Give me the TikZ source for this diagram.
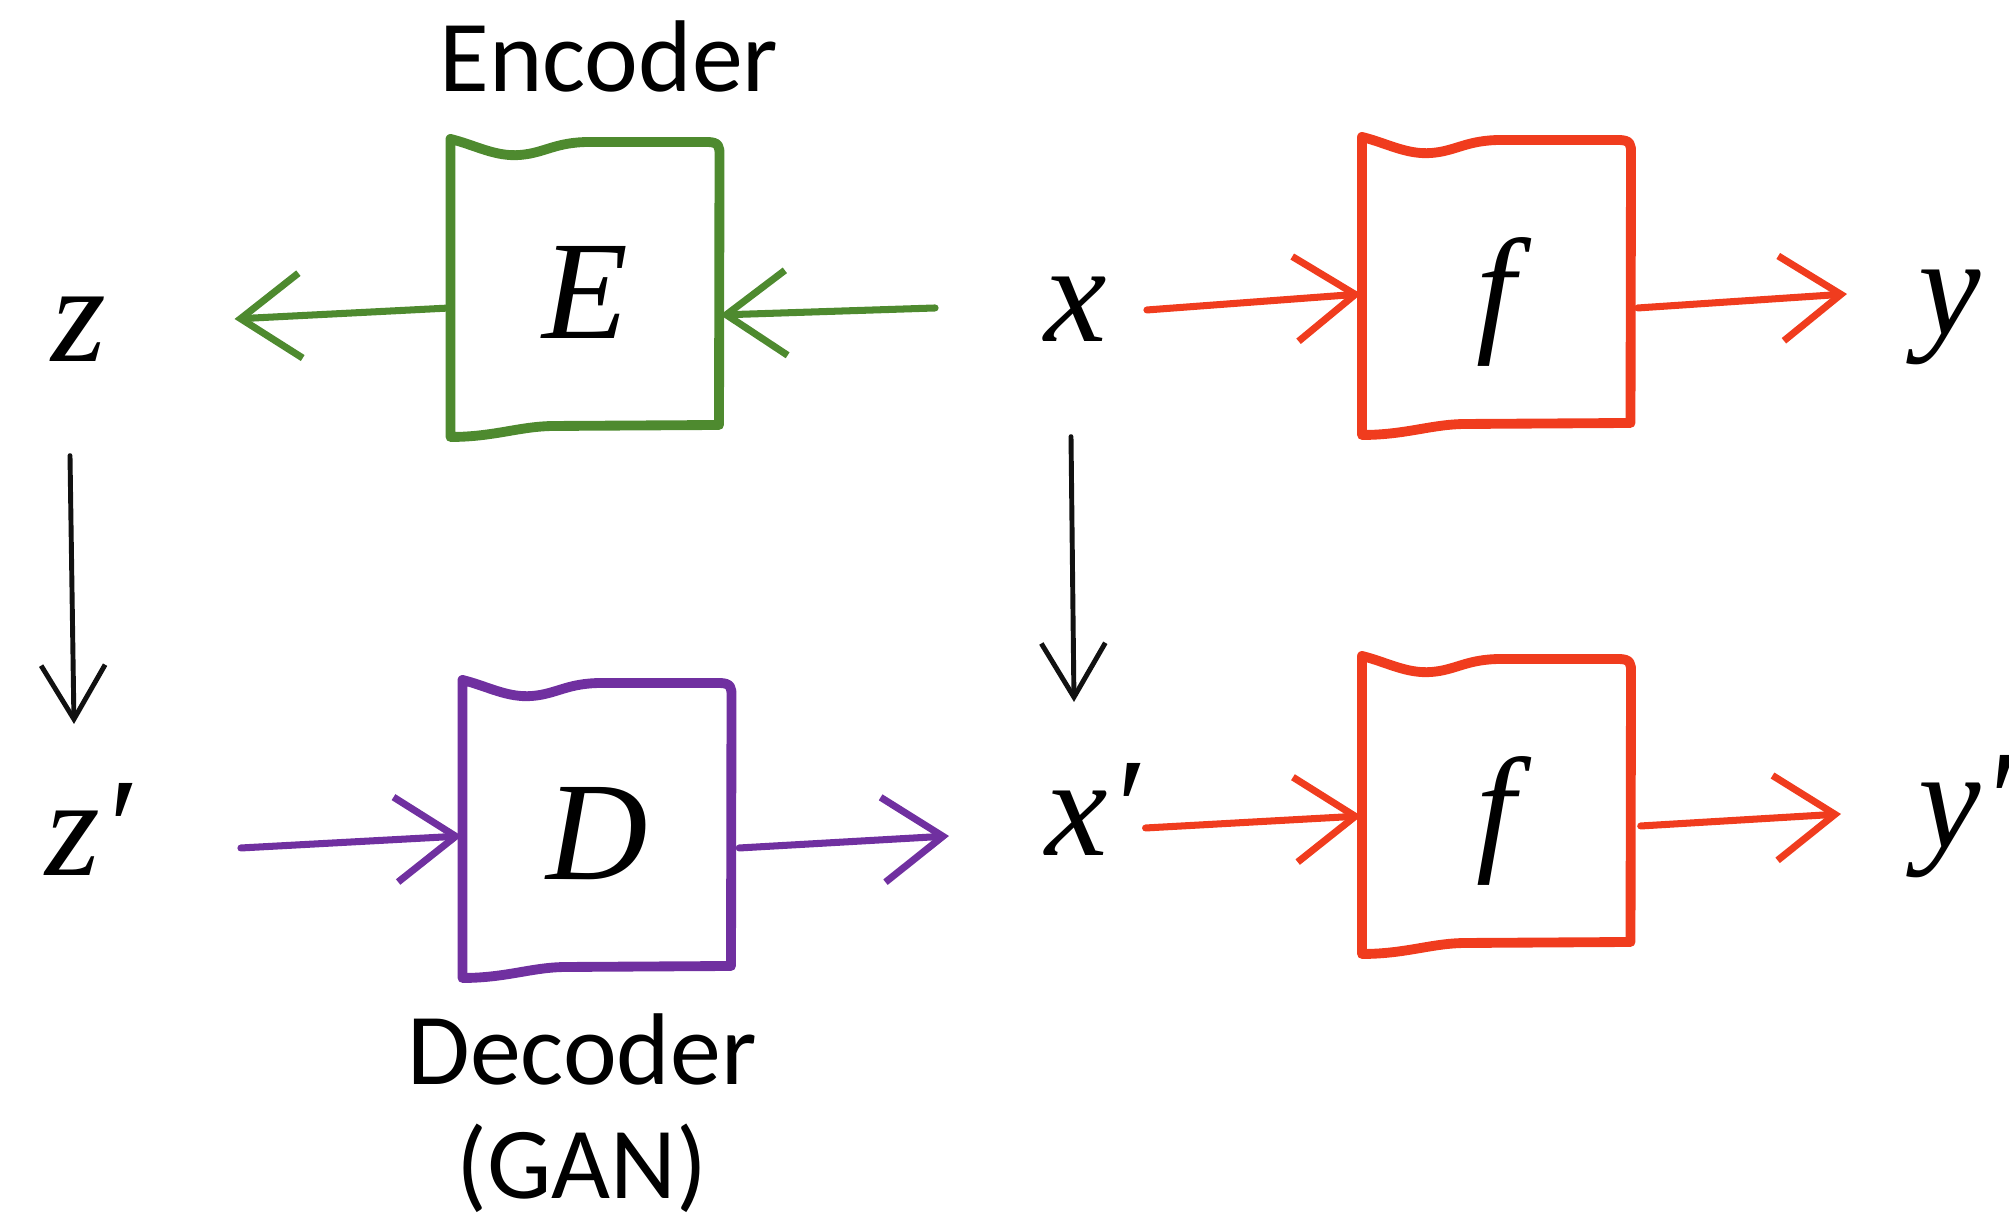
\documentclass[tikz,border=0pt]{standalone}
\usepackage{fontspec}
\setmainfont{Carlito}
\newfontfamily\varfont{Liberation Serif}
\usetikzlibrary{arrows.meta,calc,positioning}
\definecolor{sketchGreen}{HTML}{4E8A2F}
\definecolor{sketchRed}{HTML}{F03C1E}
\definecolor{sketchPurple}{HTML}{7030A0}
\definecolor{sketchInk}{HTML}{111111}
\newcommand{\sketchLineW}{2.8pt}
\newcommand{\sketchArrowW}{2pt}
\newcommand{\sketchThinW}{1.4pt}
\tikzset{
  var/.style={font=\varfont\itshape\fontsize{40}{48}\selectfont, inner sep=0pt},
  block/.style={var, minimum width=2.69cm, minimum height=2.92cm,
    text height=10.4mm, text depth=0pt},
  caption/.style={font=\fontsize{29}{34}\selectfont, inner sep=0pt},
  pics/sketchbox/.style={code={
    \draw[#1, line width=\sketchLineW, line join=round, line cap=round]
      (-1.345,1.48) .. controls (-1.1,1.42) and (-0.9,1.3) .. (-0.65,1.32)
      .. controls (-0.4,1.34) and (-0.3,1.45) .. (0.05,1.45) -- (1.22,1.45)
      .. controls (1.345,1.45) and (1.345,1.40) .. (1.345,1.32)
      -- (1.34,-1.38) -- (-0.3,-1.39)
      .. controls (-0.65,-1.39) and (-0.9,-1.50) .. (-1.345,-1.50) -- cycle;
  }},
  sketch arrow/.style={line width=\sketchArrowW, line cap=round, line join=round,
    -{Straight Barb[length=6mm,width=8.5mm]}},
  ink arrow/.style={sketchInk, line width=\sketchThinW, line cap=round, line join=round,
    -{Straight Barb[length=5.4mm,width=6.4mm]}},
}
\begin{document}
\begin{tikzpicture}
  \useasboundingbox (0,0) rectangle (20.09,12.25);

  % ===== Top row: z <- E <- x -> f -> y =====
  \node[caption, anchor=base] (enclabel) at (6.09,11.33) {Encoder};
  \node[block] (E) at (5.85,9.38) {E};
  \pic at (E) {sketchbox=sketchGreen};
  \node[var, anchor=base] (z) at (0.785,8.63) {z};
  \node[var, anchor=base] (x) at (10.76,8.83) {x};
  \node[block] (ftop) at (14.965,9.40) {f};
  \pic at (ftop) {sketchbox=sketchRed};
  \node[var, anchor=base west] (y) at (19.18,8.90) {y};

  \draw[sketch arrow, sketchGreen] ([xshift=-10.9mm,yshift=3.4mm]x.base west) -- ([yshift=-2.8mm]E.east);
  \draw[sketch arrow, sketchGreen] ([yshift=-2.1mm]E.west) -- ([xshift=12.8mm,yshift=4.3mm]z.base east);
  \draw[sketch arrow, sketchRed] ([xshift=3.9mm,yshift=3.2mm]x.base east) -- ([yshift=-0.9mm]ftop.west);
  \draw[sketch arrow, sketchRed] ([xshift=0.6mm,yshift=-2.3mm]ftop.east) -- ([xshift=-7.1mm,yshift=4.1mm]y.base west);

  % ===== Bottom row: z' -> D -> x' -> f -> y' =====
  \node[var, anchor=base west] (zp) at (0.45,3.49) {z′};
  \node[block] (D) at (5.97,3.97) {D};
  \pic at (D) {sketchbox=sketchPurple};
  \node[var, anchor=base west] (xp) at (10.45,3.69) {x′};
  \node[block] (fbot) at (14.965,4.21) {f};
  \pic at (fbot) {sketchbox=sketchRed};
  \node[var, anchor=base west] (yp) at (19.18,3.77) {y′};
  \node[caption, anchor=base] (declabel) at (5.82,1.40) {Decoder};
  \node[caption, anchor=base] (ganlabel) at (5.82,0.26) {(GAN)};

  \draw[sketch arrow, sketchPurple] ([xshift=10.9mm,yshift=2.8mm]zp.base east) -- ([yshift=-0.8mm]D.west);
  \draw[sketch arrow, sketchPurple] ([xshift=0.7mm,yshift=-2mm]D.east) -- ([xshift=-9.6mm,yshift=2.0mm]xp.base west);
  \draw[sketch arrow, sketchRed] ([xshift=0.6mm,yshift=2.8mm]xp.base east) -- ([yshift=-1.2mm]fbot.west);
  \draw[sketch arrow, sketchRed] ([xshift=0.9mm,yshift=-2.2mm]fbot.east) -- ([xshift=-7.7mm,yshift=3.4mm]yp.base west);

  % ===== Vertical links between the rows =====
  \draw[ink arrow] ($(z.south)+(-0.085,-0.93)$) -- ($(z.south |- zp.base)+(-0.045,1.52)$);
  \draw[ink arrow] ($(x.south)+(-0.05,-0.94)$) -- ($(x.south |- xp.base)+(-0.02,1.54)$);
\end{tikzpicture}
\end{document}
